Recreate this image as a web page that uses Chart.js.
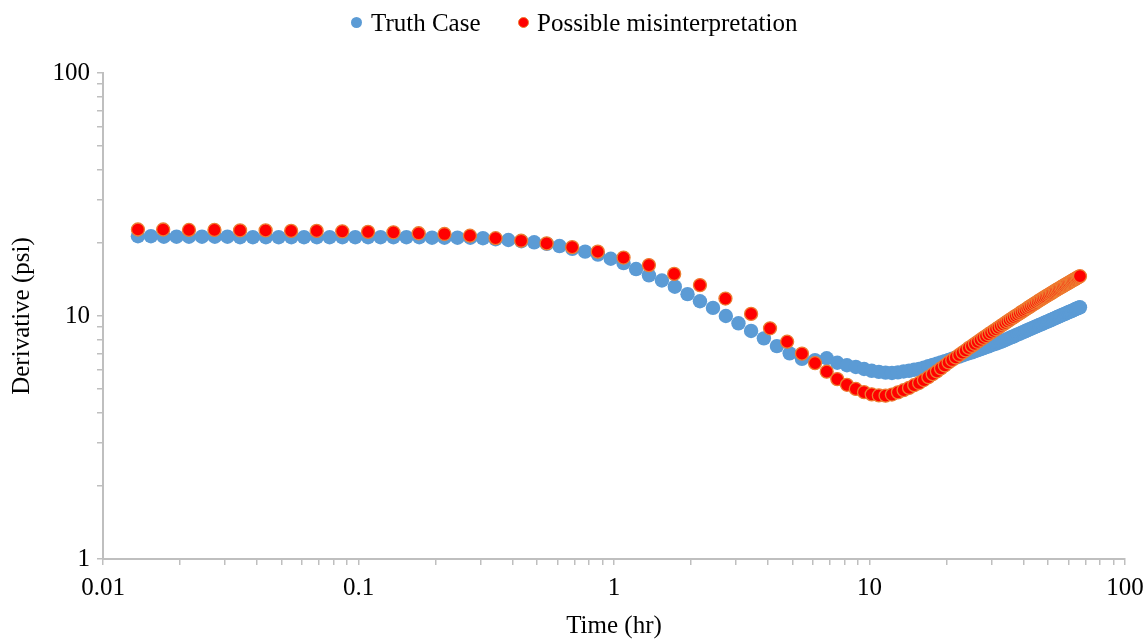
<!DOCTYPE html>
<html>
<head>
<meta charset="utf-8">
<title>Derivative vs Time</title>
<script src="https://cdn.jsdelivr.net/npm/chart.js@4.4.1/dist/chart.umd.min.js"></script>
<style>
  body { margin: 0; background: #fff; }
  #wrap { position: relative; width: 1143px; height: 639px; }
  #legend { position: absolute; left: 0; top: 0; width: 1143px; height: 44px;
            font-family: 'Liberation Serif', 'Times New Roman', serif; font-size: 25px; color: #000; }
  #legend .dot { position: absolute; width: 11px; height: 11px; border-radius: 50%; box-sizing: border-box; }
  #legend .txt { position: absolute; line-height: 25px; white-space: nowrap; }
</style>
</head>
<body>
<div id="wrap">
  <canvas id="derivChart" width="1143" height="639"></canvas>
  <div id="legend">
    <span class="dot" style="left:351px; top:16.5px; background:#5B9BD5;"></span>
    <span class="txt" style="left:371px; top:10px;">Truth Case</span>
    <span class="dot" style="left:518px; top:16.5px; background:#FF0000; border:1.5px solid #ED7D31;"></span>
    <span class="txt" style="left:537px; top:10px;">Possible misinterpretation</span>
  </div>
</div>
<script>
// time samples (hr), log spaced at first, then every 0.68 hr
var truthTimesEarly = [0.0137, 0.0154, 0.0173, 0.0194, 0.0217, 0.0244, 0.0274, 0.0307, 0.0344, 0.0386,
    0.0434, 0.0487, 0.0546, 0.0612, 0.0687, 0.0771, 0.0865, 0.0971, 0.109, 0.122,
    0.137, 0.154, 0.173, 0.194, 0.217, 0.244, 0.274, 0.307, 0.344, 0.386,
    0.434, 0.487, 0.546, 0.612, 0.687, 0.771, 0.865, 0.971, 1.09, 1.22,
    1.37, 1.54, 1.73, 1.94, 2.17, 2.44, 2.74, 3.07, 3.44, 3.86, 4.34, 4.87];
var misTimesEarly = [0.0137, 0.0172, 0.0217, 0.0273, 0.0344, 0.0433, 0.0545, 0.0686, 0.0864, 0.109,
    0.137, 0.172, 0.217, 0.273, 0.344, 0.433, 0.545, 0.686, 0.864, 1.09,
    1.37, 1.72, 2.17, 2.73, 3.44];
var lateTimes = [4.08, 4.76, 5.44, 6.12, 6.80, 7.48, 8.16, 8.84, 9.52, 10.20,
    10.88, 11.56, 12.24, 12.92, 13.60, 14.28, 14.96, 15.64, 16.32, 17.00,
    17.68, 18.36, 19.04, 19.72, 20.40, 21.08, 21.76, 22.44, 23.12, 23.80,
    24.48, 25.16, 25.84, 26.52, 27.20, 27.88, 28.56, 29.24, 29.92, 30.60,
    31.28, 31.96, 32.64, 33.32, 34.00, 34.68, 35.36, 36.04, 36.72, 37.40,
    38.08, 38.76, 39.44, 40.12, 40.80, 41.48, 42.16, 42.84, 43.52, 44.20,
    44.88, 45.56, 46.24, 46.92, 47.60, 48.28, 48.96, 49.64, 50.32, 51.00,
    51.68, 52.36, 53.04, 53.72, 54.40, 55.08, 55.76, 56.44, 57.12, 57.80,
    58.48, 59.16, 59.84, 60.52, 61.20, 61.88, 62.56, 63.24, 63.92, 64.60,
    65.28, 65.96, 66.64];

// derivative (psi)
var truthDerivEarly = [21.3, 21.3, 21.2, 21.2, 21.2, 21.2, 21.2, 21.2, 21.1, 21.1,
    21.1, 21.1, 21.1, 21.1, 21.1, 21.1, 21.1, 21.1, 21.1, 21.1,
    21.1, 21.1, 21.1, 21.0, 21.0, 21.0, 21.0, 20.9, 20.7, 20.55,
    20.3, 20.1, 19.8, 19.4, 18.9, 18.4, 17.9, 17.2, 16.5, 15.6,
    14.7, 14.0, 13.2, 12.3, 11.5, 10.8, 10.0, 9.33, 8.68, 8.09, 7.52, 7.02];
// truth case late part starts at 5.44 hr (lateTimes[2])
var truthDerivLate = [6.66, 6.58, 6.70, 6.42, 6.27, 6.17, 6.05, 5.95, 5.89, 5.85,
    5.83, 5.86, 5.91, 5.95, 6.01, 6.06, 6.13, 6.22, 6.29, 6.36,
    6.44, 6.52, 6.59, 6.67, 6.74, 6.81, 6.89, 6.96, 7.03, 7.09,
    7.16, 7.23, 7.30, 7.37, 7.44, 7.50, 7.58, 7.64, 7.70, 7.76,
    7.83, 7.90, 7.97, 8.04, 8.12, 8.19, 8.25, 8.33, 8.40, 8.46,
    8.54, 8.60, 8.67, 8.74, 8.80, 8.87, 8.93, 9.00, 9.06, 9.12,
    9.18, 9.24, 9.30, 9.37, 9.43, 9.48, 9.55, 9.60, 9.66, 9.72,
    9.78, 9.84, 9.90, 9.95, 10.01, 10.07, 10.12, 10.18, 10.23, 10.29,
    10.34, 10.40, 10.45, 10.50, 10.55, 10.61, 10.66, 10.71, 10.77, 10.81, 10.86];
var misDerivEarly = [22.7, 22.7, 22.6, 22.6, 22.5, 22.5, 22.4, 22.4, 22.3, 22.2,
    22.1, 21.9, 21.75, 21.4, 20.9, 20.4, 19.9, 19.2, 18.4, 17.4,
    16.2, 14.9, 13.4, 11.8, 10.2];
var misDerivLate = [8.90, 7.84, 7.00, 6.40, 5.90, 5.50, 5.21, 5.01, 4.86, 4.76,
    4.71, 4.70, 4.75, 4.85, 4.95, 5.06, 5.19, 5.30, 5.45, 5.60,
    5.76, 5.92, 6.09, 6.26, 6.44, 6.59, 6.75, 6.91, 7.07, 7.22,
    7.39, 7.53, 7.68, 7.83, 7.98, 8.13, 8.27, 8.41, 8.55, 8.69,
    8.82, 8.96, 9.10, 9.23, 9.36, 9.50, 9.63, 9.76, 9.89, 10.02,
    10.14, 10.27, 10.40, 10.51, 10.63, 10.76, 10.88, 11.01, 11.12, 11.24,
    11.35, 11.48, 11.59, 11.70, 11.81, 11.93, 12.03, 12.14, 12.25, 12.35,
    12.45, 12.56, 12.67, 12.78, 12.88, 12.97, 13.07, 13.17, 13.27, 13.37,
    13.47, 13.56, 13.65, 13.75, 13.84, 13.94, 14.03, 14.12, 14.22, 14.31,
    14.40, 14.49, 14.58];

// axis labels (only the decades are labelled)
var xDecades = [0.01, 0.1, 1, 10, 100];
var xTickLabels = ['0.01', '0.1', '1', '10', '100'];
var yDecades = [1, 10, 100];
var yTickLabels = ['1', '10', '100'];

var truthTimes = truthTimesEarly.concat(lateTimes.slice(2));
var truthDeriv = truthDerivEarly.concat(truthDerivLate);
var misTimes = misTimesEarly.concat(lateTimes);
var misDeriv = misDerivEarly.concat(misDerivLate);

function toPoints(xs, ys) {
    return xs.map(function (x, i) { return { x: x, y: ys[i] }; });
}

// 1..9 minor ticks for every decade, like the excel log axis
function logTicks(decades) {
    var ticks = [];
    for (var d = 0; d < decades.length - 1; d++) {
        for (var m = 1; m <= 9; m++) {
            ticks.push({ value: Number((m * decades[d]).toPrecision(3)), major: m === 1 });
        }
    }
    ticks.push({ value: decades[decades.length - 1], major: true });
    return ticks;
}

function decadeLabel(decades, labels) {
    return function (value) {
        for (var i = 0; i < decades.length; i++) {
            if (Math.abs(value - decades[i]) < decades[i] * 1e-6) return labels[i];
        }
        return '';
    };
}

var serif = "'Liberation Serif', 'Times New Roman', serif";
var axisGray = '#BFBFBF';

var ctx = document.getElementById('derivChart').getContext('2d');
var derivChart = new Chart(ctx, {
    type: 'scatter',
    data: {
        datasets: [{
            label: 'Truth Case',
            data: toPoints(truthTimes, truthDeriv),
            backgroundColor: '#5B9BD5',
            borderColor: '#5B9BD5',
            borderWidth: 0,
            pointRadius: 7.2,
            order: 1
        }, {
            label: 'Possible misinterpretation',
            data: toPoints(misTimes, misDeriv),
            backgroundColor: '#FF0000',
            borderColor: '#ED7D31',
            borderWidth: 1.3,
            pointRadius: 6.5,
            order: 0
        }]
    },
    options: {
        responsive: false,
        devicePixelRatio: 1,
        animation: false,
        events: [],
        layout: { padding: { top: 73, right: 0, bottom: 0, left: 0 } },
        plugins: {
            legend: { display: false },
            tooltip: { enabled: false }
        },
        scales: {
            x: {
                type: 'logarithmic',
                position: 'bottom',
                min: 0.01,
                max: 100,
                afterBuildTicks: function (scale) { scale.ticks = logTicks(xDecades); },
                afterFit: function (scale) {
                    scale.height = 80;
                    scale.paddingLeft = 0;
                    scale.paddingRight = 18;
                },
                grid: { drawOnChartArea: false, drawTicks: true, tickLength: 6, color: axisGray, lineWidth: 1.5 },
                border: { display: true, color: axisGray, width: 2 },
                ticks: {
                    autoSkip: false, maxRotation: 0, minRotation: 0, padding: 8,
                    color: '#000', font: { family: serif, size: 25 },
                    callback: decadeLabel(xDecades, xTickLabels)
                },
                title: {
                    display: true, text: 'Time (hr)', color: '#000',
                    font: { family: serif, size: 25, lineHeight: 1 },
                    padding: { top: 0, bottom: 0 }
                }
            },
            y: {
                type: 'logarithmic',
                position: 'left',
                min: 1,
                max: 100,
                afterBuildTicks: function (scale) { scale.ticks = logTicks(yDecades); },
                afterFit: function (scale) { scale.width = 103; },
                grid: { drawOnChartArea: false, drawTicks: true, tickLength: 6, color: axisGray, lineWidth: 1.5 },
                border: { display: true, color: axisGray, width: 2 },
                ticks: {
                    autoSkip: false, padding: 7,
                    color: '#000', font: { family: serif, size: 25 },
                    callback: decadeLabel(yDecades, yTickLabels)
                },
                title: {
                    display: true, text: 'Derivative (psi)', color: '#000',
                    font: { family: serif, size: 25, lineHeight: 1 },
                    padding: { top: 9.5, bottom: 0 }
                }
            }
        }
    }
});
</script>
</body>
</html>
